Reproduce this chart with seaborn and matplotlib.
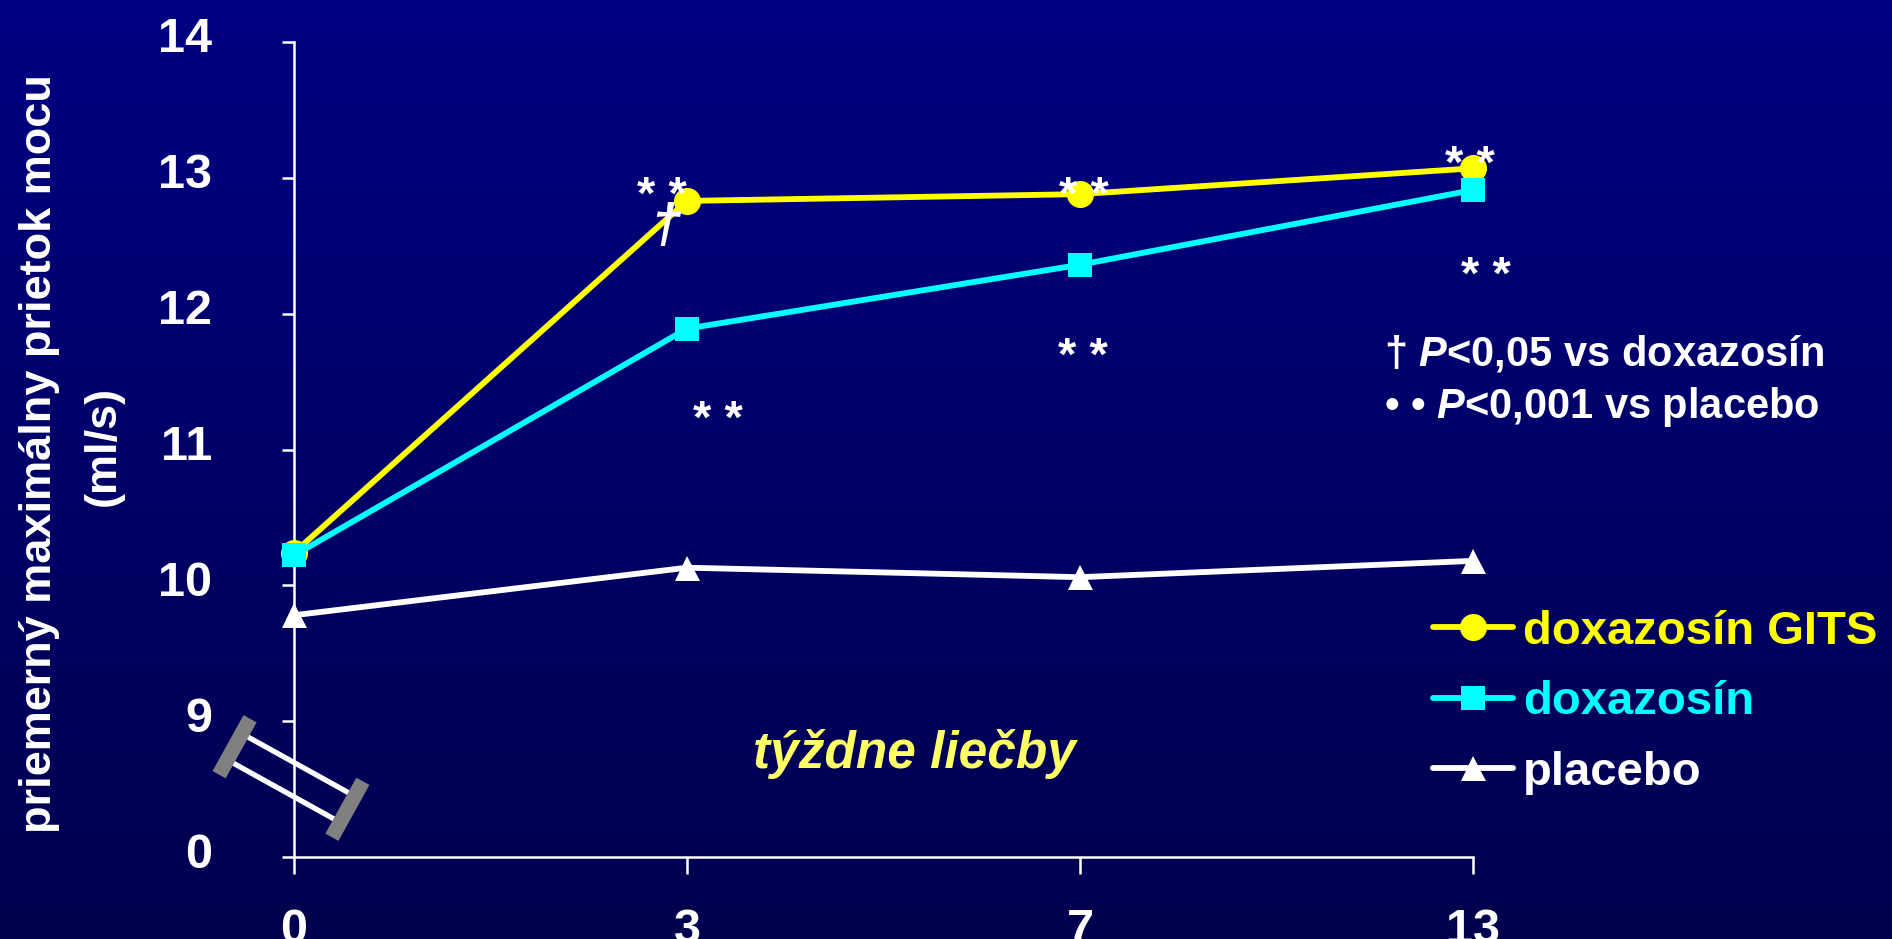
import numpy as np
import pandas as pd
import matplotlib
matplotlib.use("Agg")
import matplotlib.pyplot as plt
import seaborn as sns
from matplotlib.patches import Rectangle
from matplotlib.transforms import Affine2D, ScaledTranslation
from matplotlib.colors import LinearSegmentedColormap

# --- data -------------------------------------------------------------
weeks = ["0", "3", "7", "13"]
gits = [10.24, 12.83, 12.88, 13.07]
doxa = [10.22, 11.89, 12.36, 12.91]
placebo = [9.78, 10.13, 10.06, 10.18]
series_names = ["doxazosín GITS", "doxazosín", "placebo"]
series_colors = ["#FFFF00", "#00FFFF", "#FFFFFF"]
series_markers = ["o", "s", "^"]
series_msize = [19.5, 17, 18]
y_ticks = [0, 9, 10, 11, 12, 13, 14]

W, H = 1892, 939

sns.set_theme(style="white")
plt.rcParams["font.family"] = ["Liberation Sans", "DejaVu Sans"]
plt.rcParams["font.weight"] = "bold"
plt.rcParams["mathtext.fontset"] = "custom"
plt.rcParams["mathtext.it"] = "Liberation Sans:italic:bold"
plt.rcParams["mathtext.rm"] = "Liberation Sans:bold"

pos = list(range(len(weeks)))
df = pd.DataFrame({
    "pos": pos * 3,
    "tyzden": weeks * 3,
    "prietok": gits + doxa + placebo,
    "skupina": [n for n in series_names for _ in weeks],
})

fig = plt.figure(figsize=(W / 100, H / 100), dpi=100)

# vertical navy gradient behind everything
bg = fig.add_axes([0, 0, 1, 1], zorder=-10)
grad_cmap = LinearSegmentedColormap.from_list("navy", ["#000082", "#00004E"])
bg.imshow(np.linspace(0, 1, 256).reshape(-1, 1), cmap=grad_cmap,
          aspect="auto", extent=[0, 1, 0, 1])
bg.axis("off")

ax = fig.add_axes([294 / W, (H - 857) / H, (1473 - 294) / W, (857 - 42) / H], zorder=0)
ax.set_facecolor("none")


# broken y axis: 0..9 squeezed into one step, 9..14 linear
def _fwd(y):
    y = np.asarray(y, dtype=float)
    return np.where(y >= 9, y - 8, y / 9)


def _inv(u):
    u = np.asarray(u, dtype=float)
    return np.where(u >= 1, u + 8, u * 9)


ax.set_yscale("function", functions=(_fwd, _inv))

draw_order = [2, 0, 1]
for i in draw_order:
    sub = df[df["skupina"] == series_names[i]]
    sns.lineplot(data=sub, x="pos", y="prietok", ax=ax, color=series_colors[i],
                 marker=series_markers[i], markersize=series_msize[i],
                 markeredgewidth=0, linewidth=4.2, label=series_names[i],
                 clip_on=False, zorder=3 + i)

ax.set_xlim(0, len(weeks) - 1)
ax.set_ylim(0, 14)
ax.set_xticks(pos)
ax.set_xticklabels(weeks)
ax.set_yticks(y_ticks)
ax.set_yticklabels([str(t) for t in y_ticks])
ax.minorticks_off()
ax.set_xlabel("")
ax.set_ylabel("")

sns.despine(ax=ax)
for side in ("left", "bottom"):
    ax.spines[side].set_color("white")
    ax.spines[side].set_linewidth(1.8)

ax.tick_params(axis="both", colors="white", width=1.8, direction="out",
               labelsize=35, bottom=True, left=True)
ax.tick_params(axis="x", length=12, pad=25)
ax.tick_params(axis="y", length=9, pad=50)
for lbl in ax.get_xticklabels() + ax.get_yticklabels():
    lbl.set_fontweight("bold")
for lbl in ax.get_yticklabels():
    lbl.set_transform(lbl.get_transform() +
                      ScaledTranslation(0, 7 / 100, fig.dpi_scale_trans))

# legend in the right margin
handles, labels = ax.get_legend_handles_labels()
order = [labels.index(n) for n in series_names]
ax.get_legend().remove()
leg = fig.legend([handles[k] for k in order], [labels[k] for k in order],
                 loc="upper left", bbox_to_anchor=(1433 / W, 1 - 610 / H),
                 frameon=False, borderpad=0, borderaxespad=0,
                 handlelength=1.7, handletextpad=0.21, labelspacing=0.56,
                 numpoints=1, prop={"weight": "bold", "size": 34})
for txt, col in zip(leg.get_texts(), series_colors):
    txt.set_color(col)


def fig_text(x, y, s, **kw):
    return fig.text(x / W, 1 - y / H, s, **kw)


# significance marks
stars = [(662, 182), (1084, 182), (1470, 151), (718, 406), (1083, 343), (1486, 262)]
for sx, sy in stars:
    fig_text(sx, sy + 27, "* *", color="white", fontsize=34, fontweight="bold",
             ha="center", va="baseline")
fig_text(666, 242, "†", color="white", fontsize=40, fontweight="bold",
         fontstyle="italic", ha="center", va="baseline")

# footnote
fig_text(1384, 365, r"† $\mathit{P}$<0,05 vs doxazosín", color="white",
         fontsize=30, fontweight="bold", ha="left", va="baseline")
fig_text(1384, 418, r"• • $\mathit{P}$<0,001 vs placebo", color="white",
         fontsize=30, fontweight="bold", ha="left", va="baseline")

# x-axis caption
fig_text(914, 768, "týždne liečby", color="#FFFF66", fontsize=37,
         fontweight="bold", fontstyle="italic", ha="center", va="baseline")

# y-axis caption
fig_text(40, 454, "priemerný maximálny prietok mocu", color="white",
         fontsize=32.5, fontweight="bold", rotation=90, ha="center", va="center")
fig_text(103, 446, "(ml/s)", color="white", fontsize=32.5, fontweight="bold",
         rotation=90, ha="center", va="center")

# axis-break symbol over the left spine
ov = fig.add_axes([0, 0, 1, 1], zorder=5)
ov.set_xlim(0, W)
ov.set_ylim(H, 0)
ov.set_facecolor("none")
ov.axis("off")
tr = Affine2D().rotate_deg(29).translate(291, 778) + ov.transData
ov.add_patch(Rectangle((-62, -15), 124, 30, fill=False, edgecolor="white",
                       linewidth=3.8, transform=tr))
for cx in (-64.5, 64.5):
    ov.add_patch(Rectangle((cx - 7.5, -32), 15, 64, facecolor="#808080",
                           edgecolor="none", transform=tr))

fig.savefig("out.png", dpi=100)
